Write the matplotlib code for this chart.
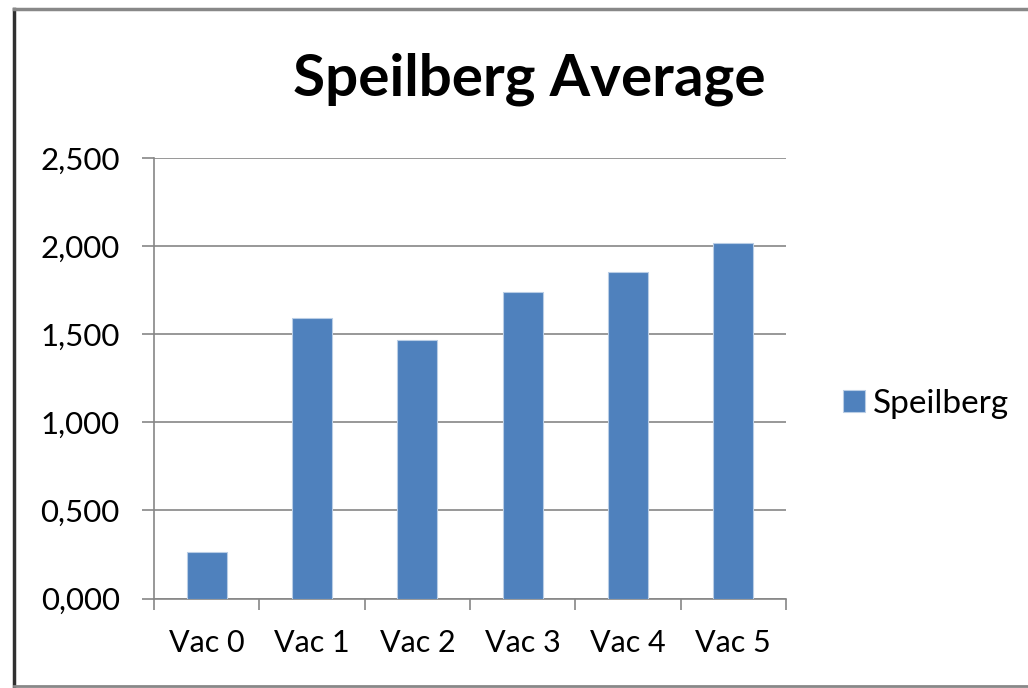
import matplotlib
matplotlib.use("Agg")
import matplotlib.pyplot as plt
from matplotlib.lines import Line2D
from matplotlib.ticker import FuncFormatter

categories = ["Vac 0", "Vac 1", "Vac 2", "Vac 3", "Vac 4", "Vac 5"]
speilberg = [0.262, 1.591, 1.466, 1.739, 1.852, 2.017]
y_ticks = [0, 0.5, 1.0, 1.5, 2.0, 2.5]

W, H = 1028, 688
fig = plt.figure(figsize=(W / 100, H / 100), dpi=100)
plt.rcParams['font.family'] = ['Lato', 'DejaVu Sans']

# outer chart frame (right edge is cut off in the original)
fig.add_artist(Line2D([14 / W, 14 / W], [1 - 9 / H, 1 - 686 / H], color="#303030", lw=2.5, transform=fig.transFigure))
fig.add_artist(Line2D([14 / W, 1], [1 - 9 / H, 1 - 9 / H], color="#888888", lw=2.5, transform=fig.transFigure))
fig.add_artist(Line2D([14 / W, 1], [1 - 686 / H, 1 - 686 / H], color="#888888", lw=2, transform=fig.transFigure))

ax = fig.add_axes([154 / W, 1 - 598.5 / H, (786 - 154) / W, (598.5 - 158.3) / H])

x = list(range(len(categories)))
ax.bar(x, speilberg, width=0.38, color="#4f81bd", edgecolor="#b9cde5", linewidth=0.8, label="Speilberg", zorder=3)

ax.set_xlim(-0.5, len(categories) - 0.5)
ax.set_ylim(0, 2.5)
ax.set_yticks(y_ticks)
ax.yaxis.set_major_formatter(FuncFormatter(lambda v, p: f"{v:,.3f}".replace(".", ",")))
ax.grid(axis="y", color="#868686", lw=1.2, zorder=0)

ax.set_xticks(x)
ax.set_xticklabels(categories)
ax.set_xticks([i - 0.5 for i in range(len(categories) + 1)], minor=True)
ax.tick_params(axis="x", which="major", length=0, pad=22, labelsize=22, colors="#000000")
ax.tick_params(axis="x", which="minor", length=8, color="#868686", width=1.2)
ax.tick_params(axis="y", length=8.6, color="#868686", width=1.2, labelsize=22.5, pad=16)

for s in ["top", "right"]:
    ax.spines[s].set_visible(False)
for s in ["left", "bottom"]:
    ax.spines[s].set_color("#868686")
    ax.spines[s].set_linewidth(1.2)

fig.text(529 / W, 1 - 79 / H, "Speilberg Average", ha="center", va="center", fontsize=42, fontweight="bold")

ax.legend(loc="center left", bbox_to_anchor=(843 / W, 1 - 404 / H), bbox_transform=fig.transFigure,
          frameon=False, fontsize=24, handlelength=0.65, handleheight=0.65, handletextpad=0.24, borderpad=0,
          borderaxespad=0)

fig.savefig("out.png", dpi=100)
